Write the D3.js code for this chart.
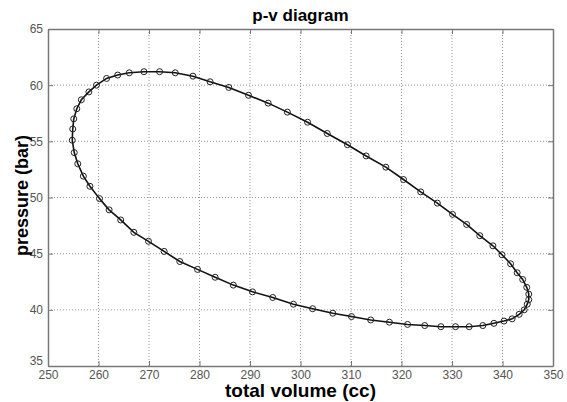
<!DOCTYPE html>
<html>
<head>
<meta charset="utf-8">
<script src="https://cdn.jsdelivr.net/npm/d3@7"></script>
<style>
  body { margin: 0; background: #fff; }
  svg { display: block; font-family: "Liberation Sans", Arial, sans-serif; }
  .tick text { fill: #555; font-size: 12px; }
</style>
</head>
<body>
<div id="chart"></div>
<script>
// cycle points, in crank order
const volume = [
  260.2, 258.3, 257.0, 255.9, 255.2, 254.8, 254.9, 255.1, 255.7, 256.6,
  258.1, 259.6, 261.6, 263.8, 266.1, 269.0, 272.1, 275.2, 278.7, 282.1,
  285.8, 289.7, 293.6, 297.4, 301.4, 305.3, 309.3, 313.0, 316.9, 320.4,
  323.8, 327.1, 330.1, 332.9, 335.5, 338.1, 339.9, 341.6, 342.9, 344.0,
  344.8, 345.2, 345.2, 344.9, 344.3, 343.3, 341.9, 340.3, 338.3, 336.1,
  333.4, 330.7, 327.8, 324.6, 321.2, 317.6, 313.9, 310.1, 306.4, 302.4,
  298.6, 294.5, 290.5, 286.7, 283.1, 279.6, 276.1, 273.0, 269.9, 267.0,
  264.4, 262.1
];
const pressure = [
  49.9, 51.0, 51.9, 53.0, 54.0, 55.1, 56.1, 57.0, 57.9, 58.7,
  59.4, 60.0, 60.6, 60.9, 61.1, 61.2, 61.2, 61.1, 60.8, 60.3,
  59.8, 59.1, 58.4, 57.6, 56.7, 55.7, 54.7, 53.7, 52.7, 51.6,
  50.5, 49.5, 48.5, 47.6, 46.6, 45.7, 44.9, 44.1, 43.3, 42.7,
  42.0, 41.4, 40.9, 40.5, 40.0, 39.6, 39.2, 39.0, 38.8, 38.6,
  38.5, 38.5, 38.5, 38.6, 38.7, 38.9, 39.1, 39.4, 39.7, 40.1,
  40.5, 41.1, 41.6, 42.2, 42.9, 43.6, 44.3, 45.2, 46.1, 46.9,
  48.0, 48.9
];
const xTicks = [250, 260, 270, 280, 290, 300, 310, 320, 330, 340, 350];
const yTicks = [35, 40, 45, 50, 55, 60, 65];

const W = 567, H = 402;
const margin = {top: 29, right: 14, bottom: 36, left: 48};
const iw = W - margin.left - margin.right,
      ih = H - margin.top - margin.bottom;

const svg = d3.select("#chart").append("svg")
    .attr("width", W).attr("height", H);

const x = d3.scaleLinear().domain([250, 350]).range([margin.left, margin.left + iw]);
const y = d3.scaleLinear().domain([35, 65]).range([margin.top + ih, margin.top]);

// dotted grid
const grid = svg.append("g").attr("stroke", "#999").attr("stroke-dasharray", "1,2");
grid.selectAll(".gx").data(xTicks.slice(1, -1)).enter().append("line")
    .attr("x1", d => x(d)).attr("x2", d => x(d))
    .attr("y1", margin.top).attr("y2", margin.top + ih);
grid.selectAll(".gy").data(yTicks.slice(1, -1)).enter().append("line")
    .attr("y1", d => y(d)).attr("y2", d => y(d))
    .attr("x1", margin.left).attr("x2", margin.left + iw);

// axes (inward ticks, matlab style)
const axColor = "#777";
const xAxis = svg.append("g")
    .attr("transform", "translate(0," + (margin.top + ih) + ")")
    .call(d3.axisBottom(x).tickValues(xTicks).tickSizeInner(-5).tickSizeOuter(0).tickPadding(4));
const yAxis = svg.append("g")
    .attr("transform", "translate(" + margin.left + ",0)")
    .call(d3.axisLeft(y).tickValues(yTicks).tickSizeInner(-5).tickSizeOuter(0).tickPadding(5));
const xTop = svg.append("g")
    .attr("transform", "translate(0," + margin.top + ")")
    .call(d3.axisTop(x).tickValues(xTicks).tickSizeInner(-5).tickSizeOuter(0).tickFormat(""));
const yRight = svg.append("g")
    .attr("transform", "translate(" + (margin.left + iw) + ",0)")
    .call(d3.axisRight(y).tickValues(yTicks).tickSizeInner(-5).tickSizeOuter(0).tickFormat(""));
[xAxis, yAxis, xTop, yRight].forEach(g => {
    g.selectAll("line").attr("stroke", axColor);
    g.select(".domain").attr("stroke", axColor).attr("stroke-width", 1.5);
});
// the corner labels touch in the original; nudge the lowest y label up a bit
yAxis.selectAll(".tick text").filter(d => d === 35).attr("dy", "-0.1em");

// cycle line + markers
const line = d3.line()
    .x(d => x(d[0])).y(d => y(d[1]))
    .curve(d3.curveLinearClosed);
const pts = volume.map((v, i) => [v, pressure[i]]);

svg.append("path")
    .datum(pts)
    .attr("d", line)
    .attr("fill", "none")
    .attr("stroke", "#111")
    .attr("stroke-width", 1.6);

svg.append("g").selectAll("circle")
    .data(pts).enter().append("circle")
    .attr("cx", d => x(d[0])).attr("cy", d => y(d[1]))
    .attr("r", 3)
    .attr("fill", "none")
    .attr("stroke", "#222")
    .attr("stroke-width", 1);

// titles
svg.append("text")
    .attr("x", margin.left + iw / 2).attr("y", 21)
    .attr("text-anchor", "middle")
    .style("font-size", "17px").style("font-weight", "bold")
    .text("p-v diagram");

svg.append("text")
    .attr("x", margin.left + iw / 2).attr("y", 397)
    .attr("text-anchor", "middle")
    .style("font-size", "19px").style("font-weight", "bold")
    .text("total volume (cc)");

svg.append("text")
    .attr("transform", "translate(28," + (margin.top + ih / 2 - 2) + ") rotate(-90)")
    .attr("text-anchor", "middle")
    .style("font-size", "18px").style("font-weight", "bold")
    .text("pressure (bar)");
</script>
</body>
</html>
